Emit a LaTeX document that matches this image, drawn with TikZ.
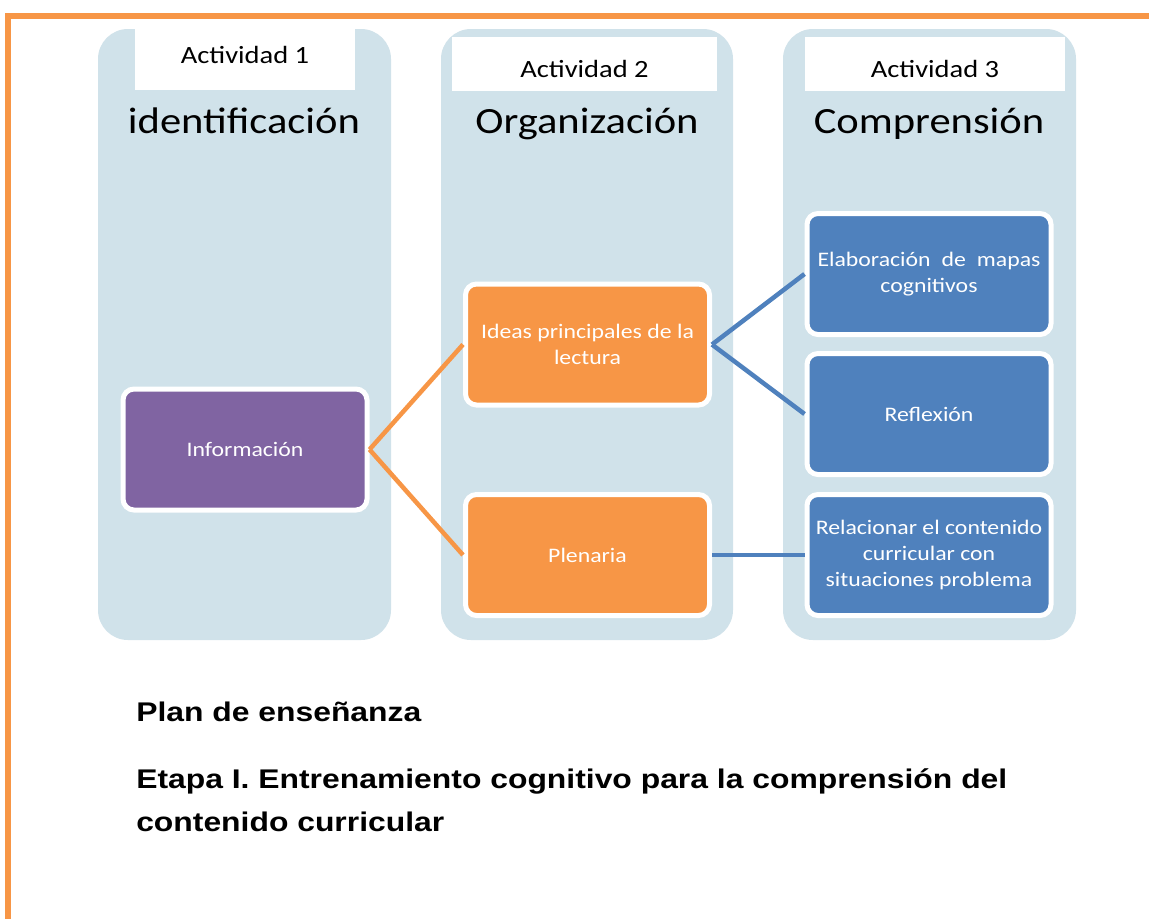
\documentclass[tikz,border=0pt]{standalone}
\usepackage{fontspec}
\setmainfont{Carlito}[FakeStretch=1.15]
\newfontfamily\arialfont{Liberation Sans}[FakeStretch=1.18]
\newlength{\pxu}
\setlength{\pxu}{0.75pt}
\definecolor{colbg}{RGB}{208,226,234}
\definecolor{orng}{RGB}{247,150,70}
\definecolor{purp}{RGB}{128,100,162}
\definecolor{blu}{RGB}{79,129,189}
\tikzset{
  column/.style={fill=colbg, rounded corners=30\pxu},
  labelbox/.style={fill=white},
  actlabel/.style={anchor=base, inner sep=0pt, font=\fontsize{18.6pt}{22pt}\selectfont},
  coltitle/.style={anchor=base, inner sep=0pt, font=\fontsize{27.75pt}{32pt}\selectfont},
  card/.style={draw=white, line width=5\pxu, rounded corners=11\pxu,
    minimum width=244\pxu, minimum height=121\pxu, text=white, align=center,
    inner sep=2pt, font=\fontsize{15.5pt}{19.2pt}\selectfont},
  purplecard/.style={card, fill=purp},
  orangecard/.style={card, fill=orng},
  bluecard/.style={card, fill=blu},
  oline/.style={draw=orng, line width=4.5\pxu},
  bline/.style={draw=blu, line width=4.5\pxu},
  bottomtext/.style={anchor=base west, inner sep=0pt, font=\arialfont\bfseries\fontsize{20.25pt}{24pt}\selectfont}
}
\begin{document}
\begin{tikzpicture}[x=1\pxu, y=-1\pxu]
\useasboundingbox (0,0) rectangle (1149,918);
\fill[white] (0,0) rectangle (1149,918);
% orange frame
\draw[draw=orng, line width=6\pxu] (8,940) -- (8,16) -- (1170,16);
% columns
\fill[column] (98,29) rectangle (391,640);
\fill[column] (441,29) rectangle (733,640);
\fill[column] (783,29) rectangle (1076,640);
% label boxes
\fill[labelbox] (135,25) rectangle (355,90);
\fill[labelbox] (452,37) rectangle (717,91);
\fill[labelbox] (805,37) rectangle (1065,91);
\node[actlabel] (a1) at (245,63) {Actividad 1};
\node[actlabel] (a2) at (584.5,77) {Actividad 2};
\node[actlabel] (a3) at (935,77) {Actividad 3};
\node[coltitle] (t1) at (244,133) {identificación};
\node[coltitle] (t2) at (587,133) {Organización};
\node[coltitle] (t3) at (929,133) {Comprensión};
% cards
\node[purplecard] (info) at (245,449.5) {Información};
\node[orangecard] (ideas) at (587.5,344.5) {Ideas principales de la\\lectura};
\node[orangecard] (plen) at (587.5,555) {Plenaria};
\node[bluecard] (elab) at (929,274) {\makebox[223\pxu][s]{Elaboración de mapas}\\cognitivos};
\node[bluecard] (refl) at (929,414) {Reflexión};
\node[bluecard] (rel) at (929,555) {Relacionar el contenido\\curricular con\\situaciones problema};
% connectors
\draw[oline] (info.east) -- (ideas.west);
\draw[oline] (info.east) -- (plen.west);
\draw[bline] (ideas.east) -- (elab.west);
\draw[bline] (ideas.east) -- (refl.west);
\draw[bline] (plen.east) -- (rel.west);
% bottom text
\node[bottomtext] (plan) at (136,721) {Plan de enseñanza};
\node[bottomtext] (etapa1) at (136,788) {Etapa I. Entrenamiento cognitivo para la comprensión del};
\node[bottomtext] (etapa2) at (136,831) {contenido curricular};
\end{tikzpicture}
\end{document}
